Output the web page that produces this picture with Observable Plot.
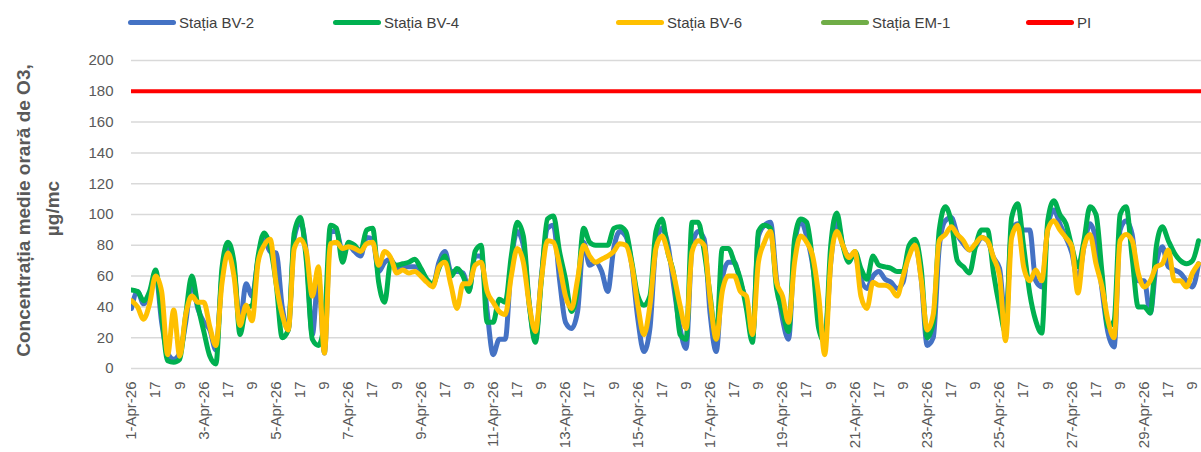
<!DOCTYPE html>
<html><head><meta charset="utf-8">
<script src="https://cdn.jsdelivr.net/npm/d3@7"></script>
<script src="https://cdn.jsdelivr.net/npm/@observablehq/plot@0.6"></script>
<style>
body{margin:0;background:#fff;font-family:"Liberation Sans",Arial,sans-serif;}
#wrap{position:relative;width:1201px;height:452px;overflow:hidden}
#legend{position:relative;height:40px}
.item{position:absolute;top:2px;height:40px;display:flex;align-items:center}
.sw{width:48px;height:5px;border-radius:3px}
.lab{font-size:15px;color:#404040;margin-left:3px;white-space:nowrap}
</style></head>
<body><div id="wrap"><div id="legend"></div><div id="chart"></div></div>
<script>
// Series names & colours
const seriesNames = ["Stația BV-2", "Stația BV-4", "Stația BV-6", "Stația EM-1", "PI"];
const seriesColors = ["#4472C4", "#00B050", "#FFC000", "#70AD47", "#FF0000"];
// Sampling step (hours) of the values below, starting 1-Apr-26 hour 1
const stepHours = 4;
// Stația BV-2 (µg/mc)
const bv2 = [
 39,50,42,48,62,30, 10,6,10,30,56,39, 30,25,12,60,78,65, 30,55,47,71,84,76,
 75,40,25,85,95,75, 22,60,10,89,89,76, 80,76,73,85,84,63, 69,71,65,66,66,66,
 64,57,54,69,76,63, 63,62,51,73,73,37, 9,19,19,69,89,80, 41,19,60,91,93,58,
 30,26,37,82,67,69, 63,50,78,89,86,67, 32,11,26,80,91,80, 52,26,13,80,89,84,
 35,11,58,69,69,56, 43,19,86,93,95,58, 32,19,80,95,86,67, 37,19,69,97,80,73,
 73,58,52,60,63,58, 56,52,56,78,80,58, 15,20,79,96,98,87, 81,77,79,85,83,72,
 65,29,90,94,90,90, 57,53,92,103,94,85, 75,57,79,94,83,51, 23,14,90,96,87,57,
 57,36,68,79,66,64, 62,57,53,68
];
// Stația BV-4
const bv4 = [
 51,50,44,50,64,35, 5,4,6,35,60,41, 24,8,3,65,82,69, 22,39,41,73,88,79,
 55,20,25,88,98,70, 19,15,30,93,91,69, 82,80,76,90,91,56, 43,69,67,68,69,71,
 65,58,55,65,73,60, 65,60,50,76,80,30, 30,45,43,73,95,86, 41,17,58,97,99,76,
 58,37,52,91,82,80, 80,80,91,92,89,69, 47,41,47,89,97,75, 60,22,19,95,95,76,
 47,19,78,78,69,58, 39,17,89,93,91,52, 37,24,84,97,95,69, 26,17,80,101,80,69,
 76,65,58,73,67,66, 65,63,63,80,84,65, 20,30,90,105,95,70, 66,62,79,90,90,62,
 40,23,98,107,79,49, 31,23,96,109,100,94, 79,66,83,105,100,62, 27,31,100,105,72,40,
 40,36,79,92,83,75, 70,68,70,83
];
// Stația BV-6
const bv6 = [
 44,40,32,42,60,50, 9,38,8,35,47,43, 43,27,15,55,75,60, 28,41,31,69,80,84,
 55,35,25,78,84,76, 47,66,10,81,82,78, 79,78,76,81,82,67, 76,72,62,64,62,63,
 60,56,53,66,69,54, 39,55,55,67,69,50, 43,37,35,60,78,69, 41,24,58,83,82,67,
 47,39,58,80,73,69, 71,73,76,81,80,67, 41,22,41,78,86,75, 60,41,26,76,83,80,
 45,19,50,60,60,50, 47,22,69,82,89,56, 47,30,69,86,82,73, 47,9,69,89,80,72,
 76,47,39,56,54,54, 52,47,60,73,80,58, 25,35,83,87,92,87, 83,77,81,85,83,72,
 60,18,85,93,66,57, 64,57,90,96,90,85, 79,49,79,87,68,53, 31,20,83,87,83,62,
 53,57,66,68,77,57, 57,53,62,68
];
// Stația EM-1 (no values shown)
const em1 = [];
// PI threshold
const piValue = 180;
// X tick labels, one every 16 hours
const tickLabels = [
 "1-Apr-26","17","9","3-Apr-26","17","9","5-Apr-26","17","9","7-Apr-26","17","9",
 "9-Apr-26","17","9","11-Apr-26","17","9","13-Apr-26","17","9","15-Apr-26","17","9",
 "17-Apr-26","17","9","19-Apr-26","17","9","21-Apr-26","17","9","23-Apr-26","17","9",
 "25-Apr-26","17","9","27-Apr-26","17","9","29-Apr-26","17","9"
];
const tickStepHours = 16;
const yTicks = [0,20,40,60,80,100,120,140,160,180,200];
const yTitle1 = "Concentrația medie orară de O3,";
const yTitle2 = "µg/mc";

// legend
const legendX = [128, 333, 616, 821, 1026];
const leg = document.getElementById("legend");
seriesNames.forEach((n, i) => {
  const it = document.createElement("div");
  it.className = "item"; it.style.left = legendX[i] + "px";
  it.innerHTML = `<div class="sw" style="background:${seriesColors[i]}"></div><span class="lab">${n}</span>`;
  leg.appendChild(it);
});

const toRows = vals => vals.map((v, i) => ({t: i * stepHours, v}));
const tickVals = tickLabels.map((_, k) => k * tickStepHours);
const labelMap = new Map(tickVals.map((t, k) => [t, tickLabels[k]]));

const lineOpts = (color) => ({x: "t", y: "v", stroke: color, strokeWidth: 5, curve: "monotone-x", strokeLinejoin: "round", strokeLinecap: "round", clip: true});

const chart = Plot.plot({
  width: 1201, height: 412,
  marginLeft: 131, marginRight: 0, marginTop: 20, marginBottom: 84,
  style: {fontFamily: "'Liberation Sans', Arial, sans-serif", fontSize: "15px", color: "#595959", background: "#fff"},
  x: {type: "linear", domain: [0, 710]},
  y: {domain: [0, 200]},
  marks: [
    Plot.ruleY(yTicks, {stroke: "#d9d9d9", strokeWidth: 1.5}),
    Plot.axisY({ticks: yTicks, tickSize: 0, tickPadding: 18, fontSize: 15, label: null}),
    Plot.axisX({ticks: tickVals, tickFormat: d => labelMap.get(d), tickRotate: -90, tickSize: 0, tickPadding: 13, fontSize: 15, label: null}),
    Plot.line(toRows(bv2), lineOpts(seriesColors[0])),
    Plot.line(toRows(bv4), lineOpts(seriesColors[1])),
    Plot.line(toRows(bv6), lineOpts(seriesColors[2])),
    Plot.line(toRows(em1), lineOpts(seriesColors[3])),
    Plot.ruleY([piValue], {stroke: seriesColors[4], strokeWidth: 4}),
    Plot.text([yTitle1], {frameAnchor: "left", textAnchor: "middle", dx: -108, dy: -4, rotate: -90, fontWeight: "bold", fontSize: 19, fill: "#595959"}),
    Plot.text([yTitle2], {frameAnchor: "left", textAnchor: "middle", dx: -79, dy: -6, rotate: -90, fontWeight: "bold", fontSize: 19, fill: "#595959"})
  ]
});
document.getElementById("chart").appendChild(chart);
</script></body></html>
